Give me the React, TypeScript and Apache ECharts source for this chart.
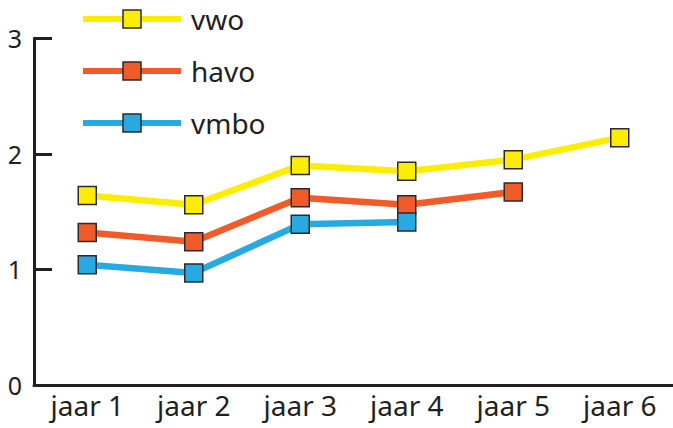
import React, { useEffect, useRef } from "react";
import * as echarts from "echarts";

const categories = ["jaar 1", "jaar 2", "jaar 3", "jaar 4", "jaar 5", "jaar 6"];
const vwo = [1.64, 1.56, 1.9, 1.85, 1.95, 2.14];
const havo = [1.32, 1.24, 1.62, 1.56, 1.67, null];
const vmbo = [1.04, 0.97, 1.39, 1.41, null, null];
const seriesNames = ["vwo", "havo", "vmbo"];
const seriesColors = ["#FFED00", "#F15A29", "#27AAE1"];

const FONT = "'Noto Sans', sans-serif";
const DARK = "#231F20";

export default function App() {
  const ref = useRef<HTMLDivElement>(null);
  useEffect(() => {
    if (!ref.current) return;
    const chart = echarts.init(ref.current, null, { renderer: "svg" });
    const datasets = [vwo, havo, vmbo];
    chart.setOption({
      animation: false,
      backgroundColor: "#ffffff",
      grid: { left: 34, right: -2, top: 38.3, bottom: 43, containLabel: false },
      legend: {
        orient: "vertical",
        left: 75,
        top: 0,
        itemWidth: 98,
        itemHeight: 22.5,
        itemGap: 24,
        data: seriesNames,
        lineStyle: { width: 6 },
        itemStyle: { borderColor: "#2b2b2b", borderWidth: 1.5 },
        textStyle: { fontFamily: FONT, fontSize: 28, color: DARK, padding: [0, 0, 0, 5] },
      },
      xAxis: {
        type: "category",
        data: categories,
        boundaryGap: true,
        axisLine: { lineStyle: { color: DARK, width: 3 } },
        axisTick: { inside: true, length: 7, lineStyle: { color: DARK, width: 2.5 } },
        axisLabel: { fontFamily: FONT, fontSize: 28, color: DARK, margin: 6 },
        splitLine: { show: false },
      },
      yAxis: {
        type: "value",
        min: 0,
        max: 3,
        interval: 1,
        axisLine: { show: true, lineStyle: { color: DARK, width: 3 } },
        axisTick: { show: true, inside: true, length: 18, lineStyle: { color: DARK, width: 3 } },
        axisLabel: { fontFamily: FONT, fontSize: 25, color: DARK, margin: 12 },
        splitLine: { show: false },
      },
      series: seriesNames.map((name, i) => ({
        name,
        type: "line",
        data: datasets[i],
        symbol: "rect",
        symbolSize: 18,
        showSymbol: true,
        connectNulls: false,
        lineStyle: { color: seriesColors[i], width: 6.5 },
        itemStyle: { color: seriesColors[i], borderColor: "#2b2b2b", borderWidth: 1.5 },
        emphasis: { disabled: true },
      })),
    });
    return () => chart.dispose();
  }, []);
  return (
    <div
      ref={ref}
      style={{ position: "absolute", left: 0, top: 0, width: 673, height: 428 }}
    />
  );
}
